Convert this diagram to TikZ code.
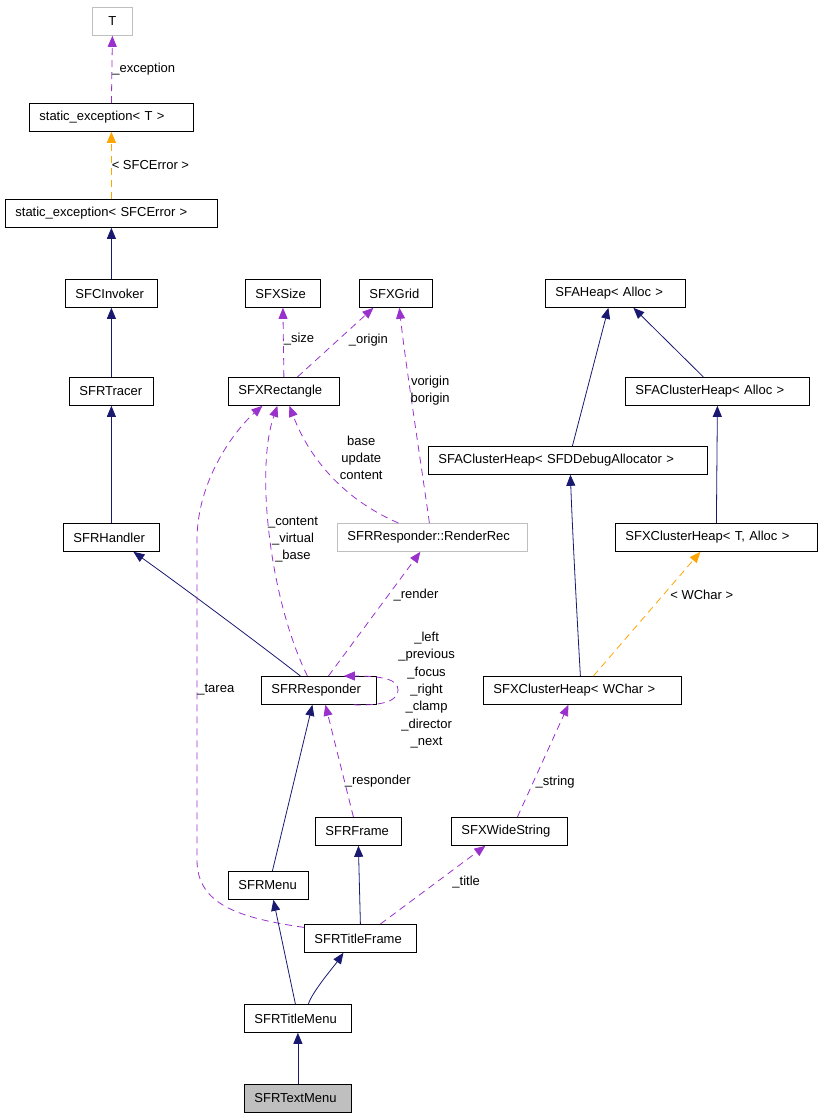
\documentclass[tikz,border=0pt]{standalone}
\usepackage{fontspec}
\setmainfont{Liberation Sans}
\usetikzlibrary{arrows.meta, positioning}
\definecolor{inhblue}{RGB}{25,25,112}
\definecolor{usepurple}{RGB}{153,50,204}
\definecolor{tplorange}{RGB}{255,165,0}
\definecolor{extgray}{RGB}{191,191,191}

\begin{document}
\begin{tikzpicture}[
    x=1pt, y=-1pt,
    every node/.style={font=\fontsize{13}{17.3}\selectfont},
    cls/.style={draw, rectangle, anchor=north west, line width=0.8pt, minimum height=28pt,
        inner xsep=10pt, inner ysep=0pt, align=left},
    ext/.style={cls, draw=extgray},
    cur/.style={cls, fill=extgray},
    lbl/.style={inner sep=0pt, align=center},
    inh/.style={draw=inhblue, line width=0.8pt, -{Triangle[length=11pt, width=9pt]}},
    use/.style={draw=usepurple, line width=0.8pt, dash pattern=on 7pt off 5pt, -{Triangle[length=11pt, width=9pt]}},
    tpl/.style={draw=tplorange, line width=0.8pt, dash pattern=on 7pt off 5pt, -{Triangle[length=11pt, width=9pt]}}
]
    \useasboundingbox (0,0) rectangle (820,1117);

    \node[ext, text width=20pt, align=center] (T) at (92,7) {T};
    \node[cls, text width=144pt] (stT) at (29,103) {static\_exception< T >};
    \node[cls, text width=192pt] (stE) at (5,199) {static\_exception< SFCError >};
    \node[cls, text width=72pt] (inv) at (65,279) {SFCInvoker};
    \node[cls, text width=64pt] (tracer) at (69,377) {SFRTracer};
    \node[cls, text width=76pt] (handler) at (63,523) {SFRHandler};
    \node[cls, text width=55pt] (size) at (245,279) {SFXSize};
    \node[cls, text width=53pt] (grid) at (359,279) {SFXGrid};
    \node[cls, text width=91pt] (rect) at (228,377) {SFXRectangle};
    \node[ext, text width=170pt] (rrec) at (337,523) {SFRResponder::RenderRec};
    \node[cls, text width=120pt] (aheap) at (545,279) {SFAHeap< Alloc >};
    \node[cls, text width=164pt] (achAlloc) at (625,377) {SFAClusterHeap< Alloc >};
    \node[cls, text width=259pt] (achDbg) at (428,446) {SFAClusterHeap< SFDDebugAllocator >};
    \node[cls, text width=182pt] (xchT) at (615,523) {SFXClusterHeap< T, Alloc >};
    \node[cls, text width=95pt] (resp) at (261,676) {SFRResponder};
    \node[cls, text width=178pt] (xchW) at (483,676) {SFXClusterHeap< WChar >};
    \node[cls, text width=66pt] (frame) at (315,817) {SFRFrame};
    \node[cls, text width=96pt] (wstr) at (451,817) {SFXWideString};
    \node[cls, text width=60pt] (menu) at (228,871) {SFRMenu};
    \node[cls, text width=92pt] (tframe) at (304,924) {SFRTitleFrame};
    \node[cls, text width=87pt] (tmenu) at (244,1004) {SFRTitleMenu};
    \node[cur, text width=87pt] (txtmenu) at (244,1084) {SFRTextMenu};

    \draw[use] (stT.north) -- node[lbl, anchor=west] {\_exception} (T.south);
    \draw[tpl] (stE.north) -- node[lbl, anchor=west] {< SFCError >} (stT.south);
    \draw[inh] (inv.north) -- (stE.south);
    \draw[inh] (tracer.north) -- (inv.south);
    \draw[inh] (handler.north) -- (tracer.south);
    \draw[inh] ([xshift=-18.5pt]resp.north) .. controls (262,646) and (180,585) .. ([xshift=22pt]handler.south);

    \draw[use] (rect.north) -- node[lbl, anchor=west, yshift=3pt] {\_size} (size.south);
    \draw[use] ([xshift=13.5pt]rect.north) -- node[lbl, anchor=west, pos=0.54, xshift=10pt] {\_origin} ([xshift=-22.5pt]grid.south);
    \draw[use] ([xshift=-3pt]rrec.north) .. controls (422,470) and (405,360) .. node[lbl, anchor=west, pos=0.6] {vorigin\\borigin} ([xshift=3.5pt]grid.south);
    \draw[use] ([xshift=-34pt]rrec.north) .. controls (345,500) and (310,460) .. node[lbl, pos=0.6, xshift=40pt, yshift=6pt] {base\\update\\content} ([xshift=5.5pt]rect.south);
    \draw[use] ([xshift=-11.5pt]resp.north) .. controls (270,600) and (255,470) .. node[lbl, pos=0.5, xshift=23pt, yshift=-3pt] {\_content\\\_virtual\\\_base} ([xshift=-6.5pt]rect.south);
    \draw[use] ([yshift=11pt]tframe.west) .. controls (240,918) and (197,905) .. (197,860)
        -- node[lbl, anchor=west, pos=0.534] {\_tarea} (197,540)
        .. controls (197,480) and (235,430) .. ([xshift=-21.5pt]rect.south);
    \draw[use] ([xshift=9.5pt]resp.north) -- node[lbl, anchor=west, pos=0.65, xshift=5pt] {\_render} ([xshift=-12pt]rrec.south);
    \draw[use] ([xshift=-23pt]resp.south east) .. controls (385,706) and (398,700) .. (398,690)
        node[lbl, anchor=west] {\_left\\\_previous\\\_focus\\\_right\\\_clamp\\\_director\\\_next}
        .. controls (398,680) and (385,676) .. ([xshift=-33pt]resp.north east);

    \draw[inh] ([xshift=4pt]menu.north) -- ([xshift=-6.5pt]resp.south);
    \draw[use] ([xshift=-5pt]frame.north) -- node[lbl, anchor=west, pos=0.32] {\_responder} ([xshift=6.5pt]resp.south);
    \draw[inh] (tframe.north) -- (frame.south);
    \draw[use] ([xshift=20pt]tframe.north) -- node[lbl, anchor=west, pos=0.53, xshift=16pt] {\_title} ([xshift=-24pt]wstr.south);
    \draw[inh] ([xshift=-2.5pt]tmenu.north) -- ([xshift=5pt]menu.south);
    \draw[inh] ([xshift=10.5pt]tmenu.north) .. controls (312,992) and (335,965) .. ([xshift=-17pt]tframe.south);
    \draw[inh] (txtmenu.north) -- (tmenu.south);

    \draw[use] ([xshift=8pt]wstr.north) -- node[lbl, anchor=west, pos=0.31, xshift=2pt] {\_string} ([xshift=-14pt]xchW.south);
    \draw[inh] ([xshift=-2pt]xchW.north) .. controls (576,600) and (572,520) .. ([xshift=2.5pt]achDbg.south);
    \draw[tpl] ([xshift=11pt]xchW.north) -- node[lbl, anchor=west, pos=0.65, xshift=7pt] {< WChar >} ([xshift=-16pt]xchT.south);
    \draw[inh] ([xshift=4.5pt]achDbg.north) -- ([xshift=-7pt]aheap.south);
    \draw[inh] ([xshift=-14pt]achAlloc.north) -- ([xshift=18pt]aheap.south);
    \draw[inh] (xchT.north) -- (achAlloc.south);
\end{tikzpicture}
\end{document}
